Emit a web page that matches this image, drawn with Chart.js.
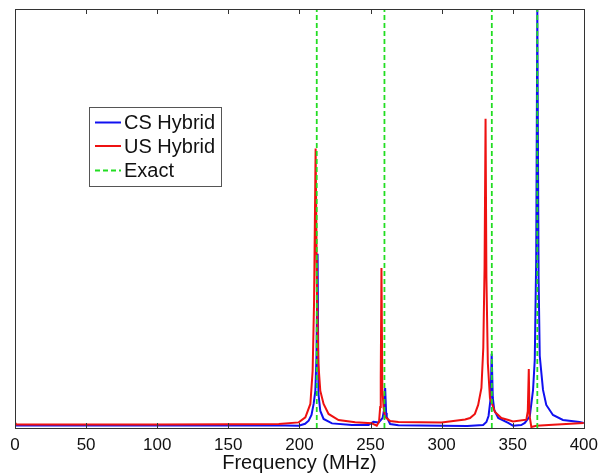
<!DOCTYPE html>
<html>
<head>
<meta charset="utf-8">
<script src="https://cdn.jsdelivr.net/npm/chart.js@4.4.1/dist/chart.umd.min.js"></script>
<style>
  html, body { margin: 0; padding: 0; background: #fff; }
</style>
</head>
<body>
<canvas id="spectrum" width="605" height="473"></canvas>
<script>
// frequency axis (MHz)
const xTicks = [0, 50, 100, 150, 200, 250, 300, 350, 400];

// CS hybrid response (normalised amplitude, % of full scale)
const csFreq = [0, 100, 150, 190, 199.5, 204, 206.5, 208.5, 210, 211.2, 212, 212.8, 213.4, 214.7, 217, 222.9, 236.9, 248.6,
  252, 255.6, 258.5, 259.5, 260.3, 261, 261.4, 263.8, 269.6, 300, 318, 329.2, 331.5, 333, 334.5, 335.2, 336, 337, 339.8, 346.8,
  350.2, 356, 358.5, 362, 364.3, 365.5, 366.5, 367.3, 368.2, 369, 371.3, 373.6, 378.3, 385.3, 397, 400];
const csAmp = [0.6, 0.6, 0.6, 0.6, 0.55, 1.0, 1.74, 3.1, 5.74, 8.84, 17, 41.6, 8.13, 4.06, 2.15, 1.1, 0.72, 0.72,
  1.5, 1.3, 2.39, 4.3, 9.56, 3.58, 2.63, 0.96, 0.65, 0.53, 0.48, 0.72, 1.43, 2.87, 7.17, 17.7, 7.17, 4.3, 2.39, 1.2,
  0.55, 0.7, 1.2, 2.77, 9.08, 16.25, 40, 100, 35.8, 17.2, 9.08, 5.5, 3.1, 1.91, 1.43, 1.2];

// US hybrid response
const usFreq = [0, 1, 50, 100, 150, 185.5, 199.5, 204.2, 207.7, 209.3, 210.3, 211.4, 212.3, 213.3, 214.7, 217, 220.5, 227.5,
  239.2, 250.9, 254.4, 256, 256.8, 257.2, 257.7, 258.3, 259.2, 260.3, 263.8, 269.6, 300, 316.5, 320, 323.4, 325.7, 328,
  329.3, 330.2, 330.9, 331.5, 332.5, 334, 337.5, 342, 347, 350.2, 359.6, 360.6, 361.3, 361.8, 363.1, 366.6, 378.3, 400];
const usAmp = [1.31, 0.84, 0.84, 0.84, 0.91, 0.96, 1.34, 2.53, 5.74, 13.6, 30, 66.7, 33.5, 15.5, 8.84, 5.74, 3.35, 1.91,
  1.36, 1.12, 0.55, 1.5, 5, 12, 38.2, 9.56, 4.78, 2.63, 1.67, 1.43, 1.31, 2.03, 2.39, 3.35, 5.5, 9.56,
  19.1, 38.2, 73.8, 35.9, 15.5, 7.17, 3.82, 2.39, 1.91, 1.58, 1.98, 4, 14.1, 3, 0.24, 0.55, 0.79, 1.2];

// exact resonance frequencies
const exactFreq = [212.2, 259.8, 335.3, 367.3];

const toPoints = (xs, ys) => xs.map((x, i) => ({ x: x, y: ys[i] }));

// one dashed dataset, vertical segments separated by gaps
const exactPoints = [];
exactFreq.forEach((f) => {
  exactPoints.push({ x: f, y: 0 }, { x: f, y: 100 }, { x: f, y: null });
});

const FONT = '"Liberation Sans", Arial, Helvetica, sans-serif';

const frame = {
  id: 'frame',
  afterDraw(chart) {
    const { ctx, chartArea: a } = chart;
    const xs = chart.scales.x;
    ctx.save();
    ctx.strokeStyle = '#333';
    ctx.lineWidth = 1;
    ctx.strokeRect(Math.round(a.left) + 0.5, Math.round(a.top) + 0.5,
      Math.round(a.right - a.left), Math.round(a.bottom - a.top));
    // inward tick marks top and bottom
    ctx.beginPath();
    xTicks.forEach((t) => {
      const px = Math.round(xs.getPixelForValue(t)) + 0.5;
      ctx.moveTo(px, a.bottom);
      ctx.lineTo(px, a.bottom - 5);
      ctx.moveTo(px, a.top);
      ctx.lineTo(px, a.top + 5);
    });
    ctx.stroke();

    // legend box
    const lx = 89, ly = 107, lw = 132, lh = 79;
    ctx.fillStyle = '#fff';
    ctx.fillRect(lx, ly, lw, lh);
    ctx.strokeStyle = '#555';
    ctx.strokeRect(lx + 0.5, ly + 0.5, lw, lh);
    ctx.font = '20px ' + FONT;
    ctx.textBaseline = 'middle';
    ctx.textAlign = 'left';
    const rows = [122.5, 146, 170.5];
    [0, 1, 2].forEach((i) => {
      const ds = chart.data.datasets[i];
      ctx.strokeStyle = ds.borderColor;
      ctx.lineWidth = ds.borderWidth;
      ctx.setLineDash(ds.borderDash || []);
      ctx.beginPath();
      ctx.moveTo(95, rows[i]);
      ctx.lineTo(121, rows[i]);
      ctx.stroke();
      ctx.setLineDash([]);
      ctx.fillStyle = '#111';
      ctx.fillText(ds.label, 124, rows[i] + 1);
    });
    ctx.restore();
  }
};

new Chart(document.getElementById('spectrum'), {
  type: 'line',
  data: {
    datasets: [
      { label: 'CS Hybrid', data: toPoints(csFreq, csAmp), borderColor: '#1010f0', borderWidth: 2, order: 2 },
      { label: 'US Hybrid', data: toPoints(usFreq, usAmp), borderColor: '#ee1111', borderWidth: 2, order: 1 },
      { label: 'Exact', data: exactPoints, borderColor: '#22dd22', borderWidth: 1.8, borderDash: [5, 3], spanGaps: false, order: 0 }
    ]
  },
  options: {
    responsive: false,
    animation: false,
    devicePixelRatio: 1,
    layout: { padding: { left: 15, right: 19, top: 9, bottom: 0 } },
    elements: { point: { radius: 0 }, line: { tension: 0, fill: false } },
    plugins: { legend: { display: false }, tooltip: { enabled: false } },
    scales: {
      x: {
        type: 'linear',
        min: 0,
        max: 400,
        grid: { display: false, drawTicks: false },
        border: { display: false },
        afterBuildTicks: (s) => { s.ticks = xTicks.map((v) => ({ value: v })); },
        afterFit: (s) => { s.height = 45; },
        ticks: { color: '#111', padding: 7, font: { family: FONT, size: 17 } },
        title: { display: true, text: 'Frequency (MHz)', color: '#111', padding: 0, font: { family: FONT, size: 20, lineHeight: 1 } }
      },
      y: { display: false, min: 0, max: 100 }
    }
  },
  plugins: [frame]
});
</script>
</body>
</html>
